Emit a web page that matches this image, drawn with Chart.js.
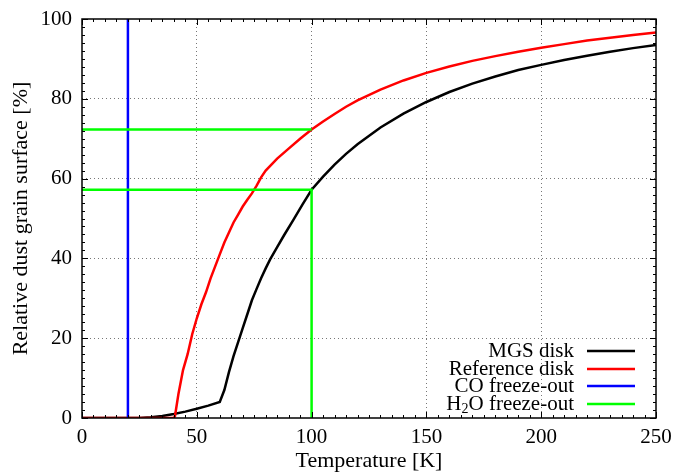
<!DOCTYPE html>
<html>
<head>
<meta charset="utf-8">
<script src="https://cdn.jsdelivr.net/npm/chart.js@4/dist/chart.umd.min.js"></script>
<style>
  html, body { margin: 0; padding: 0; background: #fff; }
  #wrap { width: 673px; height: 472px; }
</style>
</head>
<body>
<div id="wrap"><canvas id="chart" width="673" height="472"></canvas></div>
<script>
// MGS disk curve
const mgsTemp = [0, 20, 25, 30, 35, 40, 45, 50, 55, 60, 62, 64, 66, 68, 70, 72, 74, 76, 78, 80, 82, 85, 88, 92, 96, 100,
    105, 110, 115, 120, 130, 140, 150, 160, 170, 180, 190, 200, 210, 220, 230, 240, 250];
const mgsSurface = [0, 0, 0, 0.2, 0.5, 1.0, 1.6, 2.3, 3.1, 4.0, 7, 11.5, 15.5, 19, 22.5, 26, 29.5, 32.3, 35, 37.5, 39.8, 42.8, 45.8, 49.6, 53.5, 57.2,
    60.5, 63.5, 66.2, 68.6, 72.8, 76.3, 79.2, 81.7, 83.8, 85.6, 87.2, 88.5, 89.7, 90.8, 91.8, 92.7, 93.5];

// Reference disk curve
const refTemp = [0, 40, 40.5, 42, 44, 46, 48, 50, 52, 54, 56, 58, 60, 62, 64, 66, 68, 70, 72, 74, 76, 78, 80, 85, 90, 95, 100,
    105, 110, 115, 120, 130, 140, 150, 160, 170, 180, 190, 200, 210, 220, 230, 240, 250];
const refSurface = [0, 0, 0.5, 6, 12, 16, 21, 25, 28.5, 31.5, 35, 38, 41, 44, 46.5, 49, 51, 53, 54.7, 56.3, 58.2, 60.3, 62, 65, 67.5, 70, 72.3,
    74.3, 76.2, 78, 79.6, 82.3, 84.6, 86.5, 88.1, 89.5, 90.7, 91.8, 92.8, 93.7, 94.6, 95.3, 96, 96.6];

// freeze-out markers
const coTemp = [20, 20];
const coSurface = [0, 100];
const h2oTemp = [0, 100, NaN, 0, 100, 100];
const h2oSurface = [72.3, 72.3, NaN, 57.2, 57.2, 0];

const xTicks = [0, 50, 100, 150, 200, 250];
const yTicks = [0, 20, 40, 60, 80, 100];
const legendLabels = ['MGS disk', 'Reference disk', 'CO freeze-out', 'H2O freeze-out'];

const FONT = '"Liberation Serif", "Times New Roman", serif';

function toPoints(xs, ys) {
    return xs.map((x, i) => ({x: isNaN(x) ? null : x, y: isNaN(ys[i]) ? null : ys[i]}));
}

function line(label, xs, ys, color) {
    return {
        label: label,
        data: toPoints(xs, ys),
        borderColor: color,
        backgroundColor: color,
        borderWidth: 2.5,
        pointRadius: 0,
        showLine: true,
        spanGaps: false,
        tension: 0
    };
}

// inward tick marks on all four sides + frame
const frameTicks = {
    id: 'frameTicks',
    afterDatasetsDraw(chart) {
        const {ctx, chartArea: a, scales: {x, y}} = chart;
        ctx.save();
        ctx.strokeStyle = '#000';
        ctx.lineWidth = 1;
        ctx.beginPath();
        for (let t = 0; t <= 250; t += 5) {
            const px = Math.round(x.getPixelForValue(t)) + 0.5;
            const len = t % 50 === 0 ? 6 : 3;
            ctx.moveTo(px, a.bottom); ctx.lineTo(px, a.bottom - len);
            ctx.moveTo(px, a.top); ctx.lineTo(px, a.top + len);
        }
        for (let v = 0; v <= 100; v += 2) {
            const py = Math.round(y.getPixelForValue(v)) + 0.5;
            const len = v % 20 === 0 ? 6 : 3;
            ctx.moveTo(a.left, py); ctx.lineTo(a.left + len, py);
            ctx.moveTo(a.right, py); ctx.lineTo(a.right - len, py);
        }
        ctx.stroke();
        ctx.lineWidth = 1.5;
        ctx.strokeRect(a.left, a.top, a.right - a.left, a.bottom - a.top);
        ctx.restore();
    }
};

// gnuplot style key: text right aligned, sample line after it
const keyBox = {
    id: 'keyBox',
    afterDraw(chart) {
        const {ctx} = chart;
        const textRight = 574, lineX0 = 587, lineX1 = 635;
        const rowY = [351, 369, 386, 404];
        const big = '21px ' + FONT, sub = '14px ' + FONT;
        ctx.save();
        ctx.textBaseline = 'middle';
        ctx.fillStyle = '#000';
        chart.data.datasets.forEach((ds, i) => {
            const yy = rowY[i];
            ctx.font = big;
            if (i === 3) {
                // H2O with subscript
                const wO = ctx.measureText('O freeze-out').width;
                const wH = ctx.measureText('H').width;
                ctx.font = sub;
                const w2 = ctx.measureText('2').width;
                const x0 = textRight - wO - w2 - wH;
                ctx.textAlign = 'left';
                ctx.fillText('2', x0 + wH, yy + 5);
                ctx.font = big;
                ctx.fillText('H', x0, yy);
                ctx.fillText('O freeze-out', x0 + wH + w2, yy);
            } else {
                ctx.textAlign = 'right';
                ctx.fillText(legendLabels[i], textRight, yy);
            }
            ctx.strokeStyle = ds.borderColor;
            ctx.lineWidth = 2.5;
            ctx.beginPath();
            ctx.moveTo(lineX0, yy);
            ctx.lineTo(lineX1, yy);
            ctx.stroke();
        });
        ctx.restore();
    }
};

const datasets = [
    line(legendLabels[0], mgsTemp, mgsSurface, '#000000'),
    line(legendLabels[1], refTemp, refSurface, '#ff0000'),
    line(legendLabels[2], coTemp, coSurface, '#0000ff'),
    line(legendLabels[3], h2oTemp, h2oSurface, '#00ff00')
];
datasets.forEach((d, i) => d.order = 4 - i);

new Chart(document.getElementById('chart'), {
    type: 'scatter',
    data: {datasets: datasets},
    options: {
        responsive: false,
        animation: false,
        layout: {padding: {top: 19, right: 17, left: 0, bottom: 0}},
        plugins: {
            legend: {display: false},
            tooltip: {enabled: false}
        },
        scales: {
            x: {
                type: 'linear',
                min: 0,
                max: 250,
                afterBuildTicks: (s) => { s.ticks = xTicks.map(v => ({value: v})); },
                afterFit: (s) => { s.height = 54; s.paddingLeft = 0; s.paddingRight = 0; },
                ticks: {
                    color: '#000',
                    font: {family: FONT, size: 21},
                    padding: 7,
                    maxRotation: 0
                },
                grid: {
                    color: (c) => (c.tick && (c.tick.value === 0 || c.tick.value === 250)) ? 'rgba(0,0,0,0)' : '#777',
                    drawTicks: false
                },
                border: {display: false, dash: [1, 3]},
                title: {
                    display: true,
                    text: 'Temperature [K]',
                    color: '#000',
                    font: {family: FONT, size: 22, lineHeight: 1},
                    padding: {top: 0, bottom: 0}
                }
            },
            y: {
                type: 'linear',
                min: 0,
                max: 100,
                afterBuildTicks: (s) => { s.ticks = yTicks.map(v => ({value: v})); },
                afterFit: (s) => { s.width = 82; s.paddingTop = 0; s.paddingBottom = 0; },
                ticks: {
                    color: '#000',
                    font: {family: FONT, size: 21},
                    padding: 10
                },
                grid: {
                    color: (c) => (c.tick && (c.tick.value === 0 || c.tick.value === 100)) ? 'rgba(0,0,0,0)' : '#777',
                    drawTicks: false
                },
                border: {display: false, dash: [1, 3]},
                title: {
                    display: true,
                    text: 'Relative dust grain surface [%]',
                    color: '#000',
                    font: {family: FONT, size: 22, lineHeight: 1},
                    padding: {top: 10, bottom: 0}
                }
            }
        }
    },
    plugins: [frameTicks, keyBox]
});
</script>
</body>
</html>
